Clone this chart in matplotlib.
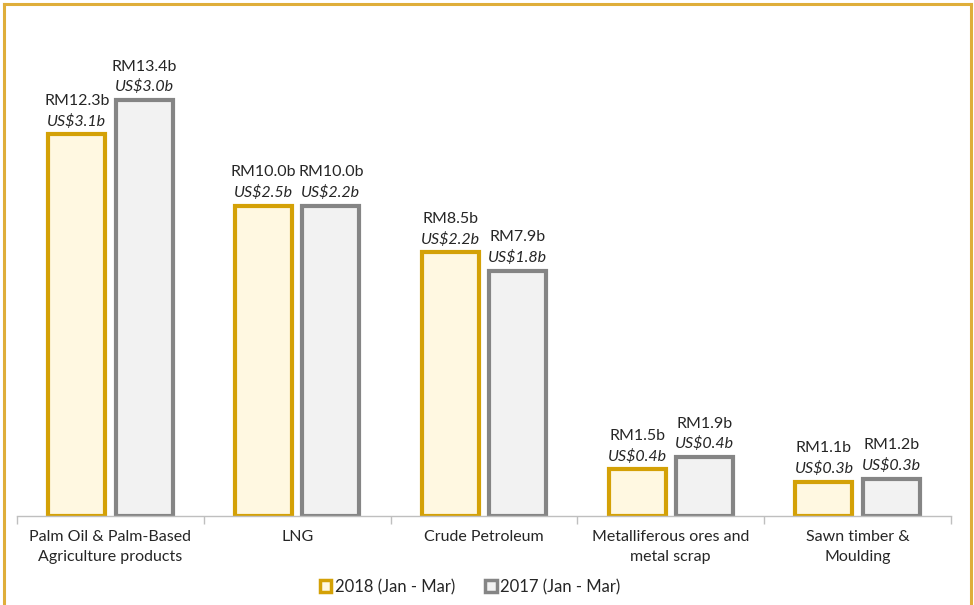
import matplotlib
matplotlib.use("Agg")
import matplotlib.pyplot as plt
import numpy as np
from matplotlib.lines import Line2D
from matplotlib.patches import Patch

plt.rcParams["font.family"] = ["Lato", "DejaVu Sans"]

categories = [
    "Palm Oil & Palm-Based\nAgriculture products",
    "LNG",
    "Crude Petroleum",
    "Metalliferous ores and\nmetal scrap",
    "Sawn timber &\nMoulding",
]
rm_2018 = [12.3, 10.0, 8.5, 1.5, 1.1]
rm_2017 = [13.4, 10.0, 7.9, 1.9, 1.2]
usd_2018 = [3.1, 2.5, 2.2, 0.4, 0.3]
usd_2017 = [3.0, 2.2, 1.8, 0.4, 0.3]
series_names = ["2018 (Jan - Mar)", "2017 (Jan - Mar)"]

GOLD = "#D4A106"
CREAM = "#FFF8E1"
GREY = "#858585"
LIGHT = "#F2F2F2"
BORDER = "#DFAE3A"

fig = plt.figure(figsize=(9.74, 6.05), dpi=100)
ax = fig.add_axes([17 / 974, 89 / 605, 934 / 974, 486 / 605])

x = np.arange(len(categories))
width = 0.305
off = 0.18

ax.bar(x - off, rm_2018, width, color=CREAM, edgecolor=GOLD, linewidth=3, zorder=2)
ax.bar(x + off, rm_2017, width, color=LIGHT, edgecolor=GREY, linewidth=3, zorder=2)

for xs, rm, us in [(x - off, rm_2018, usd_2018), (x + off, rm_2017, usd_2017)]:
    for xi, r, u in zip(xs, rm, us):
        ax.annotate(f"US${u:.1f}b", (xi, r), xytext=(0, 4), textcoords="offset points",
                    ha="center", va="bottom", fontsize=11.5, style="italic", color="#262626")
        ax.annotate(f"RM{r:.1f}b", (xi, r), xytext=(0, 19), textcoords="offset points",
                    ha="center", va="bottom", fontsize=11.5, color="#262626")

ax.set_xlim(-0.5, len(categories) - 0.5)
ax.set_ylim(0, 486 / 31.05)
ax.set_xticks(x)
ax.set_xticklabels(categories, fontsize=11.5, color="#262626", linespacing=1.55)
ax.set_xticks(np.arange(-0.5, len(categories)), minor=True)
ax.tick_params(axis="x", which="major", length=0, pad=10)
ax.tick_params(axis="x", which="minor", length=6, color="#BFBFBF", width=1)
ax.set_yticks([])
for s in ["top", "right", "left"]:
    ax.spines[s].set_visible(False)
ax.spines["bottom"].set_color("#BFBFBF")
ax.spines["bottom"].set_linewidth(1)

handles = [
    Patch(facecolor=CREAM, edgecolor=GOLD, linewidth=2.5),
    Patch(facecolor=LIGHT, edgecolor=GREY, linewidth=2.5),
]
fig.legend(handles, series_names, loc="center", bbox_to_anchor=(470 / 974, 18 / 605),
           ncol=2, frameon=False, fontsize=12, handlelength=0.7, handleheight=0.7,
           handletextpad=0.2, columnspacing=1.8, labelcolor="#262626")

# gold frame around the chart
fig.add_artist(Line2D([4 / 974, 4 / 974], [0, 1 - 4 / 605], color=BORDER, lw=2.2, transform=fig.transFigure))
fig.add_artist(Line2D([971 / 974, 971 / 974], [0, 1 - 4 / 605], color=BORDER, lw=2.2, transform=fig.transFigure))
fig.add_artist(Line2D([4 / 974, 971 / 974], [1 - 4 / 605, 1 - 4 / 605], color=BORDER, lw=2.2, transform=fig.transFigure))

fig.savefig("out.png", dpi=100)
